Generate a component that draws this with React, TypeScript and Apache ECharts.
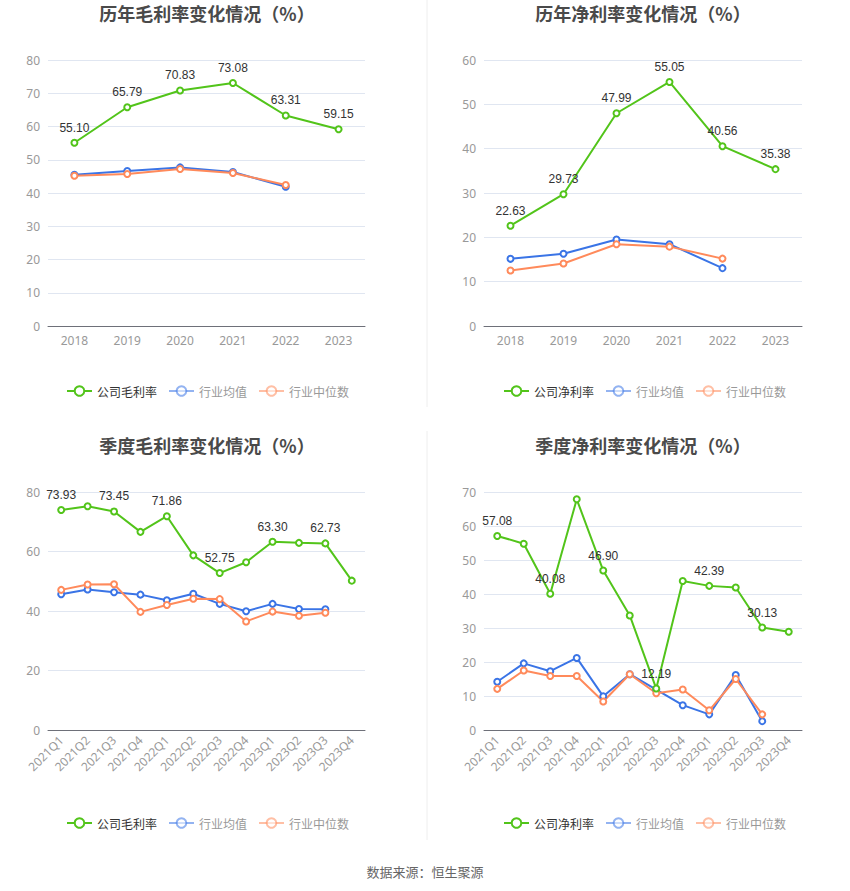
import React, { useEffect, useRef } from "react";
import * as echarts from "echarts";

const years = ["2018", "2019", "2020", "2021", "2022", "2023"];
const quarters = [
  "2021Q1", "2021Q2", "2021Q3", "2021Q4",
  "2022Q1", "2022Q2", "2022Q3", "2022Q4",
  "2023Q1", "2023Q2", "2023Q3", "2023Q4",
];

// 历年毛利率
const annualGrossCompany = [55.1, 65.79, 70.83, 73.08, 63.31, 59.15];
const annualGrossAvg = [45.5, 46.6, 47.7, 46.3, 41.9];
const annualGrossMedian = [45.2, 45.7, 47.2, 46.0, 42.4];

// 历年净利率
const annualNetCompany = [22.63, 29.73, 47.99, 55.05, 40.56, 35.38];
const annualNetAvg = [15.15, 16.3, 19.5, 18.45, 13.05];
const annualNetMedian = [12.5, 14.1, 18.45, 17.9, 15.2];

// 季度毛利率
const quarterGrossCompany = [73.93, 75.2, 73.45, 66.6, 71.86, 58.7, 52.75, 56.4, 63.3, 62.9, 62.73, 50.2];
const quarterGrossAvg = [45.65, 47.2, 46.3, 45.5, 43.6, 45.8, 42.4, 39.9, 42.4, 40.7, 40.6];
const quarterGrossMedian = [47.1, 48.9, 49.0, 39.7, 42.0, 44.1, 44.0, 36.5, 39.8, 38.4, 39.4];

// 季度净利率
const quarterNetCompany = [57.08, 54.8, 40.08, 67.85, 46.9, 33.7, 12.19, 43.8, 42.39, 41.9, 30.13, 28.9];
const quarterNetAvg = [14.2, 19.6, 17.3, 21.2, 9.9, 16.4, 11.9, 7.3, 4.6, 16.2, 2.6];
const quarterNetMedian = [12.1, 17.5, 15.9, 15.9, 8.4, 16.4, 10.8, 11.9, 5.8, 15.0, 4.6];

const titles = [
  "历年毛利率变化情况（%）",
  "历年净利率变化情况（%）",
  "季度毛利率变化情况（%）",
  "季度净利率变化情况（%）",
];
const grossName = "公司毛利率";
const netName = "公司净利率";
const avgName = "行业均值";
const medianName = "行业中位数";
const sourceText = "数据来源：恒生聚源";

const GREEN = "#52c41a";
const BLUE = "#3a74e6";
const ORANGE = "#ff8a5b";

export default function App() {
  const ref = useRef<HTMLDivElement>(null);

  useEffect(() => {
    if (!ref.current) return;
    const chart = echarts.init(ref.current, undefined, { renderer: "svg" });

    const grids = [
      { left: 48, top: 60, width: 317, height: 266 },
      { left: 484, top: 60, width: 318, height: 266 },
      { left: 48, top: 492, width: 317, height: 238 },
      { left: 484, top: 492, width: 318, height: 238 },
    ];
    const yCfg = [
      { max: 80, interval: 10 },
      { max: 60, interval: 10 },
      { max: 80, interval: 20 },
      { max: 70, interval: 10 },
    ];
    const cats = [years, years, quarters, quarters];
    const companyNames = [grossName, netName, grossName, netName];
    const companyData = [annualGrossCompany, annualNetCompany, quarterGrossCompany, quarterNetCompany];
    const avgData = [annualGrossAvg, annualNetAvg, quarterGrossAvg, quarterNetAvg];
    const medianData = [annualGrossMedian, annualNetMedian, quarterGrossMedian, quarterNetMedian];
    const titleX = [202, 638, 202, 638];
    const titleY = [-1, -1, 431, 431];
    const legendX = [61, 498, 61, 498];
    const legendY = [380, 380, 812, 812];

    const series: any[] = [];
    for (let i = 0; i < 4; i++) {
      const everyOther = i >= 2;
      series.push({
        type: "line",
        name: companyNames[i],
        xAxisIndex: i,
        yAxisIndex: i,
        data: companyData[i],
        symbol: "emptyCircle",
        symbolSize: 6,
        lineStyle: { width: 2, color: GREEN },
        itemStyle: { color: GREEN },
        z: 3,
        label: {
          show: true,
          position: "top",
          color: "#333",
          fontSize: 12,
          formatter: (p: any) =>
            everyOther && p.dataIndex % 2 !== 0 ? "" : Number(p.value).toFixed(2),
        },
      });
      series.push({
        type: "line",
        name: avgName,
        xAxisIndex: i,
        yAxisIndex: i,
        data: avgData[i],
        symbol: "emptyCircle",
        symbolSize: 6,
        lineStyle: { width: 2, color: BLUE },
        itemStyle: { color: BLUE },
        z: 2,
      });
      series.push({
        type: "line",
        name: medianName,
        xAxisIndex: i,
        yAxisIndex: i,
        data: medianData[i],
        symbol: "emptyCircle",
        symbolSize: 6,
        lineStyle: { width: 2, color: ORANGE },
        itemStyle: { color: ORANGE },
        z: 2,
      });
    }

    const option: any = {
      animation: false,
      backgroundColor: "#fff",
      title: titles.map((t, i) => ({
        text: t,
        left: titleX[i],
        top: titleY[i],
        textAlign: "center",
        textStyle: {
          fontSize: 18,
          fontWeight: "bold",
          color: "#4a4a4a",
          fontFamily: "Noto Sans CJK SC",
        },
      })),
      legend: [0, 1, 2, 3].map((i) => ({
        left: legendX[i],
        top: legendY[i],
        orient: "horizontal",
        itemWidth: 25,
        itemHeight: 12,
        itemGap: 11,
        textStyle: { fontSize: 12, fontFamily: "Noto Sans CJK SC" },
        data: [
          { name: companyNames[i], textStyle: { color: "#333" } },
          {
            name: avgName,
            textStyle: { color: "#999" },
            itemStyle: { opacity: 0.55 },
            lineStyle: { opacity: 0.55 },
          },
          {
            name: medianName,
            textStyle: { color: "#999" },
            itemStyle: { opacity: 0.55 },
            lineStyle: { opacity: 0.55 },
          },
        ],
        selectedMode: false,
      })),
      grid: grids,
      xAxis: [0, 1, 2, 3].map((i) => ({
        type: "category",
        gridIndex: i,
        data: cats[i],
        boundaryGap: true,
        axisLine: { lineStyle: { color: "#6e7079" } },
        axisTick: { alignWithLabel: true, lineStyle: { color: "#6e7079" } },
        axisLabel: {
          color: "#999",
          fontSize: 12,
          rotate: i >= 2 ? 45 : 0,
          interval: 0,
          fontFamily: "Noto Sans",
        },
      })),
      yAxis: [0, 1, 2, 3].map((i) => ({
        type: "value",
        gridIndex: i,
        min: 0,
        max: yCfg[i].max,
        interval: yCfg[i].interval,
        axisLine: { show: false },
        axisTick: { show: false },
        axisLabel: { color: "#999", fontSize: 12, fontFamily: "Noto Sans" },
        splitLine: { lineStyle: { color: "#e0e6f1" } },
      })),
      series,
      graphic: [
        {
          type: "line",
          shape: { x1: 427, y1: 0, x2: 427, y2: 407 },
          style: { stroke: "#eeeeee", lineWidth: 1 },
        },
        {
          type: "line",
          shape: { x1: 427, y1: 431, x2: 427, y2: 840 },
          style: { stroke: "#eeeeee", lineWidth: 1 },
        },
        {
          type: "text",
          x: 425,
          y: 871,
          style: {
            text: sourceText,
            fill: "#666",
            fontSize: 13,
            fontFamily: "Noto Sans CJK SC",
            textAlign: "center",
            textVerticalAlign: "middle",
          },
        },
      ],
    };

    chart.setOption(option);
    return () => chart.dispose();
  }, []);

  return (
    <div
      ref={ref}
      style={{ position: "absolute", left: 0, top: 0, width: 850, height: 891 }}
    />
  );
}
